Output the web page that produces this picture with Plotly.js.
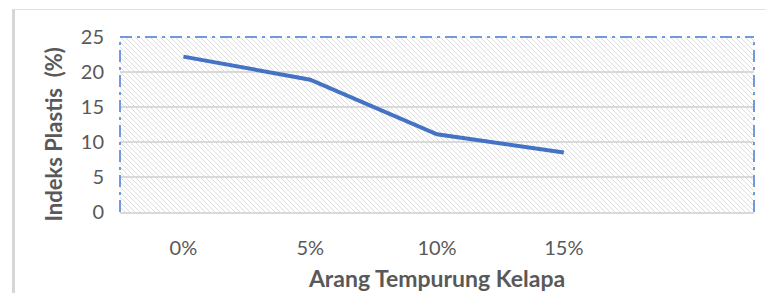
<!DOCTYPE html>
<html>
<head>
<meta charset="utf-8">
<script src="https://cdn.plot.ly/plotly-3.0.1.min.js"></script>
<style>
  html, body { margin: 0; padding: 0; background: #ffffff; }
  #wrap { position: relative; width: 766px; height: 293px; overflow: hidden; }
  #frame { position: absolute; left: 12px; top: 9px; width: 800px; height: 300px;
           border-left: 3px solid #d6d6d6; border-top: 1px solid #e3e3e3; pointer-events: none; z-index: 2; }
  #chart { position: absolute; left: 0; top: 0; width: 766px; height: 293px; }
</style>
</head>
<body>
<div id="wrap">
  <div id="chart"></div>
  <div id="frame"></div>
</div>
<script>
// Data
const categories = ['0%', '5%', '10%', '15%'];
const plastisIndex = [22.2, 18.9, 11.1, 8.5];
const yTickValues = [0, 5, 10, 15, 20, 25];
const xTitleText = 'Arang Tempurung Kelapa';
const yTitleText = 'Indeks Plastis  (%)';

// Hatch background as an SVG pattern image
const hatchSvg =
  '<svg xmlns="http://www.w3.org/2000/svg" width="634" height="175">' +
  '<defs><pattern id="h" patternUnits="userSpaceOnUse" width="5" height="5">' +
  '<path d="M-1,-1 L6,6 M-1,4 L1,6 M4,-1 L6,1" stroke="#d9d9d9" stroke-width="0.9"/>' +
  '</pattern></defs>' +
  '<rect width="634" height="175" fill="#ffffff"/>' +
  '<rect width="634" height="175" fill="url(#h)"/></svg>';
const hatchUrl = 'data:image/svg+xml;charset=utf-8,' + encodeURIComponent(hatchSvg);

const font = 'Lato, "Open Sans", "Liberation Sans", sans-serif';
const borderColor = '#7199db';
const borderDash = '12px,5px,3px,5px';

const trace = {
  type: 'scatter',
  mode: 'lines',
  x: categories,
  y: plastisIndex,
  line: { color: '#4472c4', width: 4 },
  hoverinfo: 'skip'
};

const layout = {
  width: 766,
  height: 293,
  margin: { l: 120, r: 12, t: 37, b: 81 },
  paper_bgcolor: 'rgba(0,0,0,0)',
  plot_bgcolor: '#ffffff',
  showlegend: false,
  font: { family: font, color: '#595959', size: 20 },
  xaxis: {
    type: 'category',
    categoryorder: 'array',
    categoryarray: categories,
    range: [-0.5, 4.5],
    showgrid: false,
    showline: true,
    linecolor: '#d9d9d9',
    linewidth: 2,
    ticks: 'outside',
    ticklen: 17,
    tickcolor: 'rgba(0,0,0,0)',
    tickfont: { family: font, size: 20, color: '#595959' },
    zeroline: false,
    title: { text: xTitleText, font: { family: font, size: 23, color: '#595959', weight: 'bold' }, standoff: 13 }
  },
  yaxis: {
    range: [0, 25],
    tickvals: yTickValues,
    showgrid: true,
    gridcolor: '#d9d9d9',
    gridwidth: 1.5,
    zeroline: false,
    showline: false,
    ticks: 'outside',
    ticklen: 11,
    tickcolor: 'rgba(0,0,0,0)',
    tickfont: { family: font, size: 20, color: '#595959' }
  },
  annotations: [{
    text: yTitleText,
    xref: 'paper', yref: 'paper',
    x: 0, y: 0.5,
    xanchor: 'center', yanchor: 'middle',
    xshift: -67, yshift: -10,
    textangle: -90,
    showarrow: false,
    font: { family: font, size: 22, color: '#595959', weight: 'bold' }
  }],
  images: [{
    source: hatchUrl,
    xref: 'paper', yref: 'paper',
    x: 0, y: 1, sizex: 1, sizey: 1,
    xanchor: 'left', yanchor: 'top',
    sizing: 'stretch',
    layer: 'below'
  }],
  shapes: [
    { type: 'line', xref: 'paper', yref: 'paper', x0: 0, x1: 1, y0: 1, y1: 1,
      line: { color: borderColor, width: 2, dash: borderDash } },
    { type: 'line', xref: 'paper', yref: 'paper', x0: 0, x1: 0, y0: 0, y1: 1,
      line: { color: borderColor, width: 2, dash: borderDash } },
    { type: 'line', xref: 'paper', yref: 'paper', x0: 1, x1: 1, y0: 0, y1: 1,
      line: { color: borderColor, width: 2, dash: borderDash } }
  ]
};

Plotly.newPlot('chart', [trace], layout, { displayModeBar: false, staticPlot: true });
</script>
</body>
</html>
